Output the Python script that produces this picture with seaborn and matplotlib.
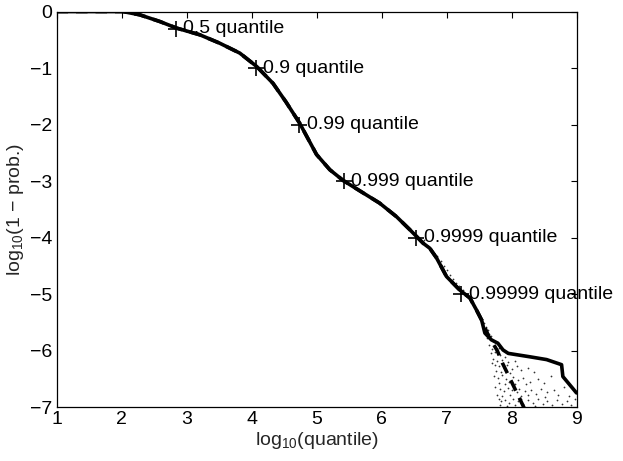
import numpy as np
import pandas as pd
import matplotlib
matplotlib.use("Agg")
import matplotlib.pyplot as plt
import seaborn as sns

# ---- data ----
emp_x = [1.0, 2.02, 2.28, 2.59, 2.85, 3.205, 3.51, 3.82, 4.08, 4.33, 4.53, 4.74,
         4.85, 5.0, 5.205, 5.41, 5.717, 5.97, 6.23, 6.435, 6.64, 6.743, 6.846,
         7.0, 7.205, 7.36, 7.46, 7.54, 7.59, 7.69, 7.79, 7.87, 7.95, 8.28, 8.54,
         8.77, 8.79, 9.0]
emp_y = [0.0, 0.0, -0.058, -0.177, -0.294, -0.412, -0.56, -0.736, -0.973, -1.27,
         -1.60, -1.975, -2.21, -2.53, -2.80, -2.99, -3.21, -3.39, -3.63, -3.86,
         -4.10, -4.19, -4.36, -4.69, -4.93, -5.07, -5.28, -5.46, -5.69, -5.81,
         -5.87, -5.99, -6.05, -6.11, -6.16, -6.25, -6.46, -6.75]

fit_x = [1.0, 2.02, 2.28, 2.59, 2.85, 3.205, 3.51, 3.82, 4.08, 4.33, 4.53, 4.74,
         4.85, 5.0, 5.205, 5.41, 5.717, 5.97, 6.23, 6.435, 6.64, 6.743, 6.846,
         7.0, 7.205, 7.36, 7.46, 7.54, 7.65, 7.78, 7.86, 8.02, 8.2]
fit_y = [0.0, 0.0, -0.058, -0.177, -0.294, -0.412, -0.56, -0.736, -0.973, -1.27,
         -1.60, -1.975, -2.21, -2.53, -2.80, -2.99, -3.21, -3.39, -3.63, -3.86,
         -4.10, -4.19, -4.36, -4.69, -4.93, -5.07, -5.28, -5.46, -5.75, -6.0,
         -6.22, -6.6, -7.03]

q_labels = ["0.5 quantile", "0.9 quantile", "0.99 quantile", "0.999 quantile",
            "0.9999 quantile", "0.99999 quantile"]
q_x = [2.835, 4.066, 4.73, 5.42, 6.53, 7.23]
q_y = [-0.301, -1.0, -2.0, -3.0, -4.0, -5.0]

dot_x = [6.58, 6.65, 6.71, 6.75, 6.81, 6.85, 6.91, 6.96, 7.00, 7.06, 7.10, 7.15,
         7.19, 7.25, 7.30, 7.34, 7.39, 7.43, 7.47, 7.51, 7.55, 7.58, 7.61, 7.64,
         7.66,
         7.62, 7.68, 7.72, 7.66, 7.75, 7.80, 7.70,
         7.68, 7.74, 7.82, 7.90, 7.72, 7.78, 7.86, 7.95, 8.05, 7.70,
         7.74, 7.80, 7.88, 7.93, 8.00, 8.08, 8.15, 8.25, 7.76, 7.84, 7.98, 8.35,
         7.73, 7.79, 7.85, 7.92, 8.02, 8.10, 8.18, 8.28, 8.40, 8.50, 7.80, 7.90,
         7.96, 8.06, 8.22, 8.60,
         7.75, 7.83, 7.88, 7.94, 8.00, 8.08, 8.12, 8.20, 8.30, 8.38, 8.45, 8.55,
         8.65, 8.72, 7.78, 7.86, 7.98, 8.15, 8.25, 8.80,
         7.80, 7.84, 7.90, 7.96, 8.03, 8.10, 8.18, 8.26, 8.33, 8.40, 8.48, 8.55,
         8.62, 8.70, 8.78, 8.85, 8.92, 8.98, 7.82, 7.93, 8.06, 8.14, 8.36, 8.52,
         8.88]
dot_y = [-4.00, -4.05, -4.15, -4.18, -4.27, -4.33, -4.42, -4.50, -4.58, -4.66,
         -4.74, -4.80, -4.85, -4.93, -5.00, -5.06, -5.13, -5.22, -5.30, -5.38,
         -5.45, -5.52, -5.58, -5.63, -5.70,
         -5.78, -5.74, -5.83, -5.90, -5.92, -5.95, -5.97,
         -6.05, -6.02, -6.08, -6.12, -6.15, -6.18, -6.16, -6.20, -6.18, -6.22,
         -6.25, -6.28, -6.30, -6.26, -6.32, -6.28, -6.35, -6.30, -6.36, -6.38,
         -6.40, -6.38,
         -6.45, -6.48, -6.44, -6.50, -6.46, -6.52, -6.48, -6.55, -6.50, -6.58,
         -6.58, -6.60, -6.56, -6.60, -6.60, -6.45,
         -6.65, -6.68, -6.72, -6.66, -6.70, -6.74, -6.68, -6.72, -6.70, -6.76,
         -6.68, -6.74, -6.70, -6.78, -6.78, -6.80, -6.78, -6.80, -6.78, -6.65,
         -6.85, -6.90, -6.88, -6.92, -6.86, -6.90, -6.95, -6.88, -6.93, -6.86,
         -6.95, -6.90, -6.97, -6.88, -6.95, -6.90, -6.97, -6.85, -6.97, -6.98,
         -6.97, -6.86, -6.98, -6.82, -6.80]

x_ticks = [1, 2, 3, 4, 5, 6, 7, 8, 9]
y_ticks = [-7, -6, -5, -4, -3, -2, -1, 0]

# ---- style ----
sns.set_style("white")
plt.rcParams["font.family"] = ["Liberation Sans", "DejaVu Sans"]
plt.rcParams["mathtext.fontset"] = "custom"
plt.rcParams["mathtext.rm"] = "Liberation Sans"
plt.rcParams["mathtext.it"] = "Liberation Sans:italic"
plt.rcParams["mathtext.bf"] = "Liberation Sans:bold"

FS = 14
fig = plt.figure(figsize=(6.23, 4.61), dpi=100)
ax = fig.add_axes([0.0907, 0.117, 0.8347, 0.858])

emp = pd.DataFrame({"x": emp_x, "y": emp_y})
fit = pd.DataFrame({"x": fit_x, "y": fit_y})
dots = pd.DataFrame({"x": dot_x, "y": dot_y})
qs = pd.DataFrame({"x": q_x, "y": q_y, "label": q_labels})

sns.scatterplot(data=dots, x="x", y="y", ax=ax, s=1.6, color="#333333",
                linewidth=0, marker="o", zorder=1)
sns.lineplot(data=fit, x="x", y="y", ax=ax, sort=False, estimator=None,
             color="black", lw=2.6, zorder=2, dashes=False,
             linestyle=(0, (3.2, 2.2)))
sns.lineplot(data=emp, x="x", y="y", ax=ax, sort=False, estimator=None,
             color="black", lw=2.6, zorder=3)
ax.plot(qs["x"], qs["y"], linestyle="none", marker="+", markersize=11,
        markeredgewidth=1.2, color="black", zorder=4)
for xx, yy, lab in zip(q_x, q_y, q_labels):
    ax.annotate(lab, (xx, yy), xytext=(5.5, 0), textcoords="offset points",
                va="center", ha="left", fontsize=FS, color="black", zorder=5,
                annotation_clip=False)

ax.set_xlim(1, 9)
ax.set_ylim(-7, 0)
ax.set_xticks(x_ticks)
ax.set_yticks(y_ticks)
ax.tick_params(direction="in", top=True, right=True, length=4, width=0.8,
               labelsize=FS, colors="black", pad=3)
for s in ax.spines.values():
    s.set_visible(True)
    s.set_color("black")
    s.set_linewidth(0.9)
ax.set_xlabel(r"$\mathregular{log_{10}}$(quantile)", fontsize=FS, labelpad=1)
ax.set_ylabel(r"$\mathregular{log_{10}}$(1 − prob.)", fontsize=FS, labelpad=3)

fig.savefig("out.png", dpi=100)
